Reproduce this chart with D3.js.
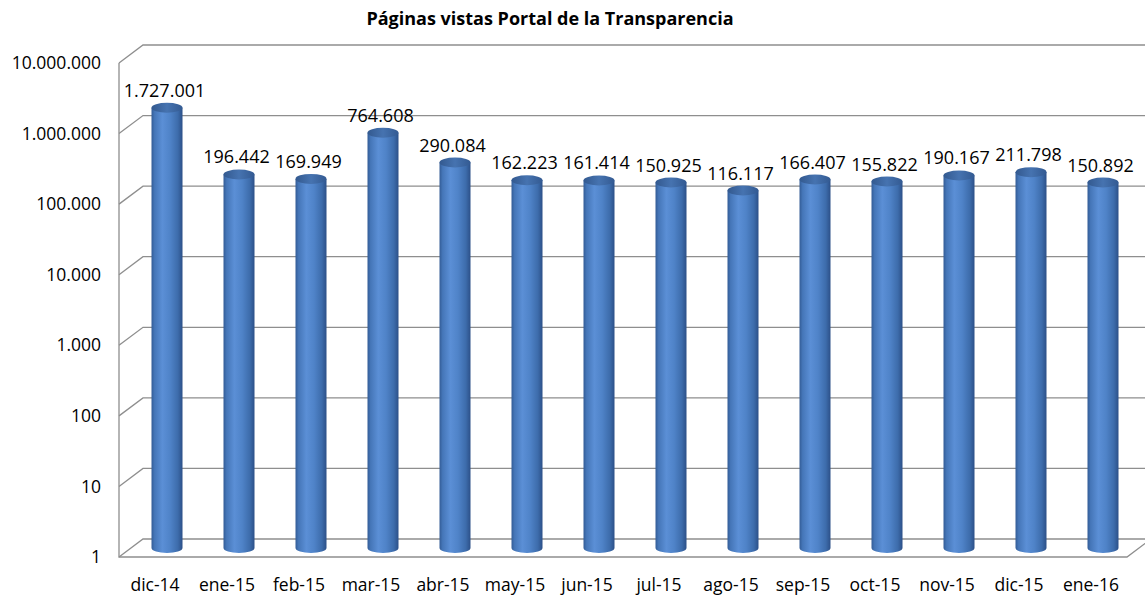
<!DOCTYPE html>
<html>
<head>
<meta charset="utf-8">
<script src="https://cdn.jsdelivr.net/npm/d3@7"></script>
<style>
  body { margin: 0; background: #fff; }
  text { font-family: "Open Sans", sans-serif; }
</style>
</head>
<body>
<svg id="chart" width="1145" height="596"></svg>
<script>
const months = ['dic-14', 'ene-15', 'feb-15', 'mar-15', 'abr-15', 'may-15', 'jun-15',
    'jul-15', 'ago-15', 'sep-15', 'oct-15', 'nov-15', 'dic-15', 'ene-16'];
const views = [1727001, 196442, 169949, 764608, 290084, 162223, 161414,
    150925, 116117, 166407, 155822, 190167, 211798, 150892];
const tickValues = [1, 10, 100, 1000, 10000, 100000, 1000000, 10000000];

const fmt = v => d3.format(',')(v).replace(/,/g, '.');

const svg = d3.select('#chart');

// depth offset of the 3d box
const dx = 24, dy = -18;

const x = d3.scaleBand().domain(months).range([119, 1127]);
const y = d3.scaleLog().domain([1, 1e7]).range([557, 63]);

svg.append('text')
    .attr('x', 550).attr('y', 25)
    .attr('text-anchor', 'middle')
    .attr('font-size', 18).attr('font-weight', 'bold')
    .text('Páginas vistas Portal de la Transparencia');

// walls and gridlines
const grid = svg.append('g').attr('stroke', '#8e8e8e').attr('stroke-width', 1.3).attr('fill', 'none');
tickValues.forEach(t => {
    const p = d3.path();
    p.moveTo(119, y(t));
    p.lineTo(119 + dx, y(t) + dy);
    p.lineTo(1145, y(t) + dy);
    grid.append('path').attr('d', p);
});
{
    const p = d3.path();
    p.moveTo(119, y(1e7));
    p.lineTo(119, y(1));
    p.lineTo(1127, y(1));
    p.lineTo(1127 + dx, y(1) + dy);
    grid.append('path').attr('d', p);
}

// axis labels
svg.append('g').selectAll('text')
    .data(tickValues).join('text')
    .attr('x', 101).attr('y', d => y(d))
    .attr('dy', '0.35em')
    .attr('text-anchor', 'end')
    .attr('font-size', 17.5)
    .text(d => fmt(d));

svg.append('g').selectAll('text')
    .data(months).join('text')
    .attr('x', d => x(d) + x.bandwidth() / 2)
    .attr('y', 591)
    .attr('text-anchor', 'middle')
    .attr('font-size', 17.5)
    .text(d => d);

// cylinder gradients
const defs = svg.append('defs');
const sideGrad = defs.append('linearGradient').attr('id', 'side');
[[0, '#335c96'], [0.1, '#4576b8'], [0.35, '#5b8fd6'], [0.6, '#4f83c8'], [0.85, '#3d6cab'], [1, '#2c5088']]
    .forEach(([o, c]) => sideGrad.append('stop').attr('offset', o).attr('stop-color', c));
const capGrad = defs.append('linearGradient').attr('id', 'cap');
[[0, '#33598f'], [0.5, '#4673b0'], [1, '#335a92']]
    .forEach(([o, c]) => capGrad.append('stop').attr('offset', o).attr('stop-color', c));

const rx = 15.5, ry = 5;
const bars = svg.append('g').selectAll('g')
    .data(months.map((m, i) => ({ m, v: views[i] })))
    .join('g')
    .attr('transform', d => `translate(${x(d.m) + x.bandwidth() / 2 + dx / 2},${dy / 2})`);

bars.append('path')
    .attr('fill', 'url(#side)')
    .attr('d', d => {
        const t = y(d.v), b = y(1);
        return `M${-rx},${t} L${-rx},${b} A${rx},${ry} 0 0 0 ${rx},${b} L${rx},${t} Z`;
    });
bars.append('ellipse')
    .attr('cx', 0).attr('cy', d => y(d.v))
    .attr('rx', rx).attr('ry', ry)
    .attr('fill', 'url(#cap)');

bars.append('text')
    .attr('x', -2.5).attr('y', d => y(d.v) - 11)
    .attr('text-anchor', 'middle')
    .attr('font-size', 18)
    .text(d => fmt(d.v));
</script>
</body>
</html>
